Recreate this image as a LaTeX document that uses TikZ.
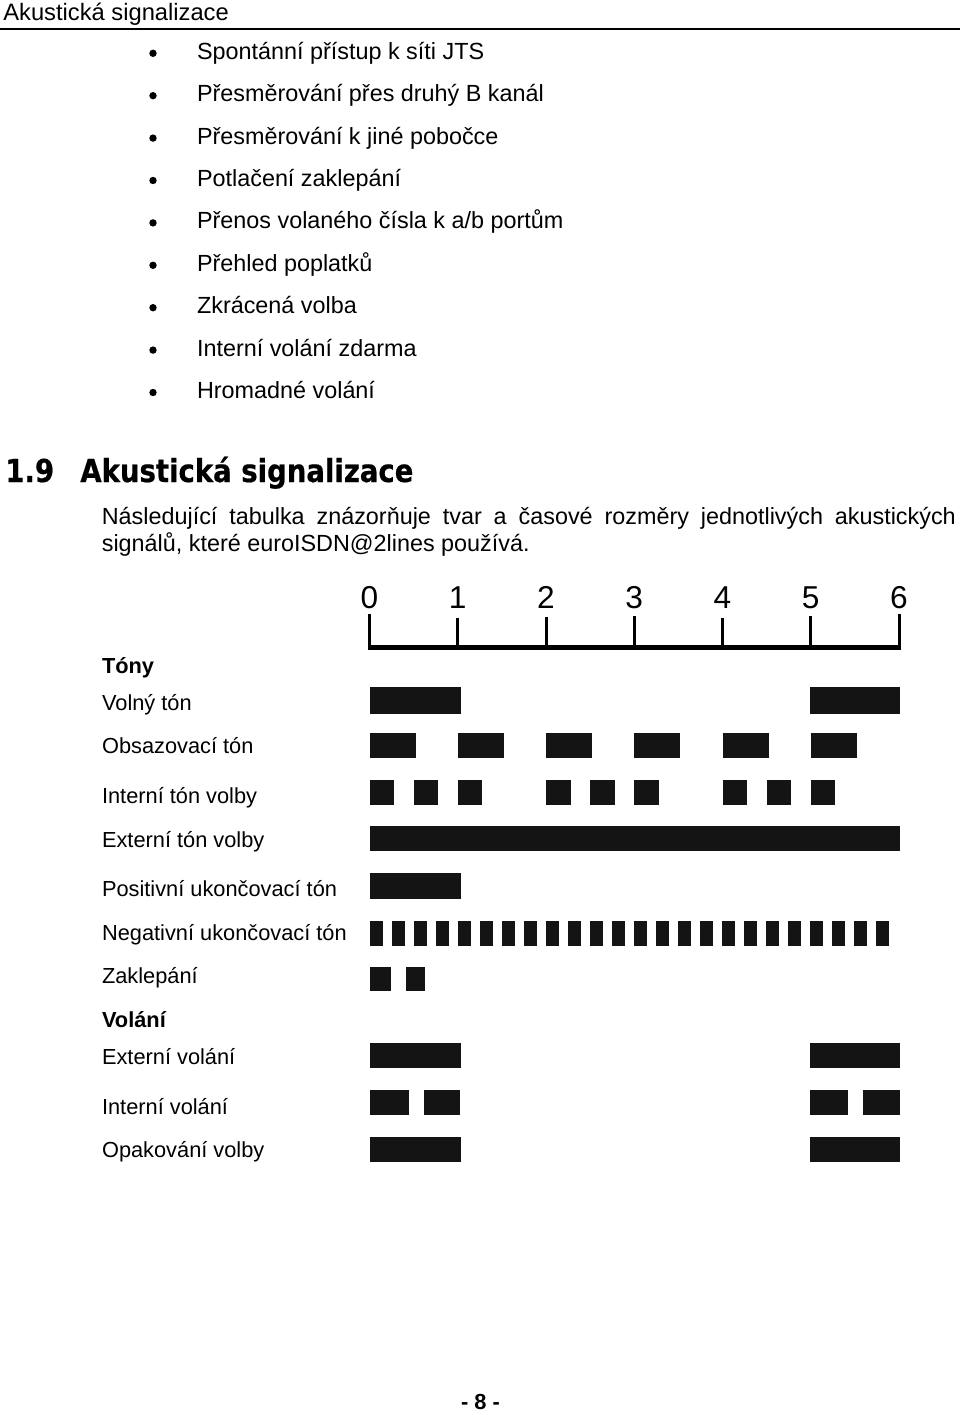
\documentclass[tikz,border=0pt]{standalone}
\usepackage{fontspec}
\setmainfont{Liberation Sans}
\newfontfamily\headfont[FakeStretch=0.87,FakeBold=0.5]{DejaVu Sans Bold}
\tikzset{
  txt/.style={anchor=base west, inner sep=0pt, font=\fontsize{12.4pt}{14pt}\selectfont},
  body/.style={anchor=base west, inner sep=0pt, font=\fontsize{13.3pt}{15pt}\selectfont},
  axnum/.style={anchor=base, inner sep=0pt, font=\fontsize{18pt}{20pt}\selectfont},
  bar/.style={fill=black!92},
  tick/.style={line width=0.6mm},
}
\begin{document}
\begin{tikzpicture}[x=0.2mm, y=-0.2mm]
  \useasboundingbox (0,0) rectangle (960,1415);

  % Page header
  \node[anchor=base west, inner sep=0pt, font=\fontsize{13.5pt}{15pt}\selectfont]
    (hdr) at (3,20.5) {Akustická signalizace};
  \draw[line width=0.4mm] (0,29) -- (960,29);

  % Feature list
  \foreach \t [count=\i from 0] in {Spontánní přístup k síti JTS,
      Přesměrování přes druhý B kanál, Přesměrování k jiné pobočce,
      Potlačení zaklepání, Přenos volaného čísla k a/b portům,
      Přehled poplatků, Zkrácená volba, Interní volání zdarma,
      Hromadné volání} {
    \fill (153,{53.3+42.4*\i}) circle (3.7);
    \node[body] (item\i) at (196.7,{59.3+42.4*\i}) {\t};
  }

  % Section heading
  \node[anchor=base west, inner sep=0pt, font=\headfont\fontsize{18pt}{20pt}\selectfont]
    (secnum) at (5,482) {1.9};
  \node[anchor=base west, inner sep=0pt, font=\headfont\fontsize{18pt}{20pt}\selectfont]
    (sectitle) at (80,482) {Akustická signalizace};
  \node[body] (para1) at (101.5,524)
    {\makebox[854\dimexpr0.2mm\relax][s]{Následující tabulka znázorňuje tvar a časové rozměry jednotlivých akustických}};
  \node[body] (para2) at (101.5,551.5) {signálů, které euroISDN@2lines používá.};

  % Time axis
  \foreach \s/\top in {0/614,1/618,2/617,3/616,4/618,5/616,6/614} {
    \node[axnum] (n\s) at ({369.5+88.25*\s},608) {\s};
    \draw[tick] ({369.5+88.25*\s},\top) -- ({369.5+88.25*\s},647);
  }
  \draw[line width=1mm] (368,647) -- (901,647);

  % Row labels
  \node[txt, font=\fontsize{12.4pt}{14pt}\selectfont\bfseries] (tony) at (101.7,673) {Tóny};
  \node[txt] (volny) at (101.7,710) {Volný tón};
  \node[txt] (obsaz) at (101.7,753) {Obsazovací tón};
  \node[txt] (inttv) at (101.7,803) {Interní tón volby};
  \node[txt] (exttv) at (101.7,847) {Externí tón volby};
  \node[txt] (posit) at (101.7,896) {Positivní ukončovací tón};
  \node[txt] (negat) at (101.7,940) {Negativní ukončovací tón};
  \node[txt] (zakl) at (101.7,983) {Zaklepání};
  \node[txt, font=\fontsize{12.4pt}{14pt}\selectfont\bfseries] (volani) at (101.7,1027) {Volání};
  \node[txt] (extvol) at (101.7,1064) {Externí volání};
  \node[txt] (intvol) at (101.7,1114) {Interní volání};
  \node[txt] (opak) at (101.7,1157) {Opakování volby};

  % Tones
  \fill[bar] (369.5,687) rectangle (461,714);
  \fill[bar] (810,687) rectangle (900,714);
  \foreach \k in {0,...,5}
    \fill[bar] ({369.5+88.25*\k},733) rectangle ++(46,25);
  \foreach \g in {0,2,4}
    \foreach \o in {0,44,88}
      \fill[bar] ({369.5+88.25*\g+\o},780) rectangle ++(24.5,25);
  \fill[bar] (369.5,826) rectangle (900,851);
  \fill[bar] (369.5,873) rectangle (461,899);
  \foreach \k in {0,...,23}
    \fill[bar] ({369.5+22*\k},921) rectangle ++(13.5,25);
  \fill[bar] (369.5,967) rectangle (391,991);
  \fill[bar] (405.5,967) rectangle (424.5,991);

  % Calls
  \fill[bar] (369.5,1043) rectangle (461,1068);
  \fill[bar] (810,1043) rectangle (900,1068);
  \fill[bar] (369.5,1090) rectangle (409,1115);
  \fill[bar] (423.5,1090) rectangle (459.5,1115);
  \fill[bar] (810,1090) rectangle (848,1115);
  \fill[bar] (863,1090) rectangle (900,1115);
  \fill[bar] (369.5,1137) rectangle (461,1162);
  \fill[bar] (810,1137) rectangle (900,1162);

  % Page number
  \node[anchor=base, inner sep=0pt, font=\fontsize{12.4pt}{14pt}\selectfont\bfseries]
    (pageno) at (480.5,1409) {- 8 -};
\end{tikzpicture}
\end{document}
